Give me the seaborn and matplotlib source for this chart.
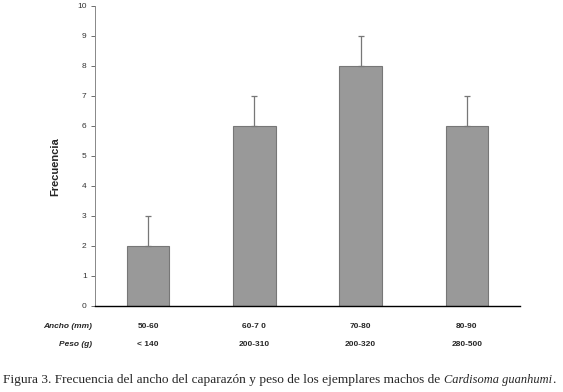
import matplotlib
matplotlib.use("Agg")
import matplotlib.pyplot as plt
import matplotlib.transforms as mtransforms
import seaborn as sns
import pandas as pd

ancho = ["50-60", "60-7 0", "70-80", "80-90"]
peso = ["< 140", "200-310", "200-320", "280-500"]
frecuencia = [2, 6, 8, 6]
error_sup = [1, 1, 1, 1]

df = pd.DataFrame({"Ancho": ancho, "Frecuencia": frecuencia})

sns.set_style("white")
plt.rcParams["font.family"] = ["Liberation Sans", "DejaVu Sans"]

W, H = 563, 392
fig = plt.figure(figsize=(W / 100, H / 100), dpi=100)
ax = fig.add_axes([95 / W, 1 - 306 / H, 425 / W, 300 / H])

sns.barplot(data=df, x="Ancho", y="Frecuencia", color="#999999", width=0.4,
            edgecolor="#777777", linewidth=0.8, saturation=1, ax=ax)
ax.errorbar(range(len(frecuencia)), frecuencia,
            yerr=[[0] * len(error_sup), error_sup], fmt="none",
            ecolor="#777777", elinewidth=0.9, capsize=2.5, capthick=0.9)

ax.set_ylim(0, 10)
ax.set_xlim(-0.5, 3.5)
ax.set_yticks(range(0, 11))
ax.tick_params(axis="y", left=True, labelsize=6, length=3, width=0.6,
               direction="out", colors="#555555", labelcolor="#333333", pad=3)
ax.set_xticks([])
ax.set_xlabel("")
ax.set_ylabel("")
fig.text(55 / W, 1 - 167 / H, "Frecuencia", rotation=90, ha="center", va="center",
         fontsize=8, fontweight="bold")

for s in ["top", "right"]:
    ax.spines[s].set_visible(False)
ax.spines["left"].set_color("#888888")
ax.spines["left"].set_linewidth(0.7)
ax.spines["bottom"].set_color("black")
ax.spines["bottom"].set_linewidth(1.0)

trans = mtransforms.blended_transform_factory(ax.transData, fig.transFigure)
row1 = 1 - 327 / H
row2 = 1 - 344 / H
fig.text(92 / W, row1, "Ancho (mm)", ha="right", va="center",
         fontsize=6, fontweight="bold", fontstyle="italic")
fig.text(92 / W, row2, "Peso (g)", ha="right", va="center",
         fontsize=6, fontweight="bold", fontstyle="italic")
for i in range(len(ancho)):
    ax.text(i, row1, ancho[i], transform=trans, ha="center", va="center",
            fontsize=6, fontweight="bold")
    ax.text(i, row2, peso[i], transform=trans, ha="center", va="center",
            fontsize=6, fontweight="bold")

# caption: roman part + italic species name + period, placed side by side
cap_y = 1 - 380 / H
t1 = fig.text(3 / W, cap_y,
              "Figura 3. Frecuencia del ancho del caparazón y peso de los ejemplares machos de ",
              ha="left", va="center", fontsize=9.65, family="Liberation Serif")
fig.canvas.draw()
r = fig.canvas.get_renderer()
x1 = t1.get_window_extent(r).x1
t2 = fig.text(x1 / W, cap_y, "Cardisoma guanhumi", ha="left", va="center",
              fontsize=8.9, family="Liberation Serif", fontstyle="italic")
x2 = t2.get_window_extent(r).x1
fig.text(x2 / W, cap_y, ".", ha="left", va="center", fontsize=9.65,
         family="Liberation Serif")

fig.savefig("out.png", dpi=100)
